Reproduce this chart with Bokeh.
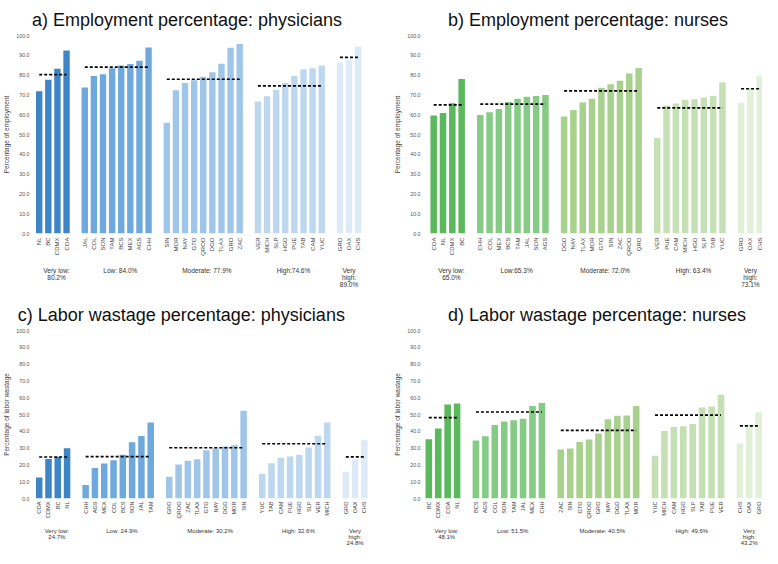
import math
from bokeh.plotting import figure
from bokeh.layouts import gridplot
from bokeh.models import Range1d, FixedTicker, LinearAxis, NumeralTickFormatter, ColumnDataSource
from bokeh.embed import file_html
from bokeh.resources import INLINE

# ---------------- data ----------------
a_states = [["NL", "BC", "CDMX", "COA"],
            ["JAL", "COL", "SON", "TAM", "BCS", "MEX", "AGS", "CHH"],
            ["SIN", "MOR", "NAY", "GTO", "QROO", "DGO", "TLAX", "GRO", "ZAC"],
            ["VER", "MICH", "SLP", "HGO", "PUE", "TAB", "CAM", "YUC"],
            ["GRO", "OAX", "CHS"]]
a_values = [[71.8, 77.7, 83.2, 92.4],
            [73.8, 79.6, 80.4, 83.4, 84.9, 85.6, 87.3, 93.9],
            [55.9, 72.4, 76.0, 77.4, 79.2, 81.5, 85.7, 93.8, 95.7],
            [66.7, 69.3, 72.6, 76.0, 79.6, 83.0, 83.4, 84.9],
            [86.5, 87.5, 94.4]]
a_means = [80.2, 84.0, 77.9, 74.6, 89.0]
a_labels = ["Very low:\n80.2%", "Low: 84.0%", "Moderate: 77.9%", "High:74.6%", "Very\nhigh:\n89.0%"]

b_states = [["COA", "NL", "CDMX", "BC"],
            ["CHH", "COL", "MEX", "BCS", "TAM", "JAL", "SON", "AGS"],
            ["DGO", "NAY", "TLAX", "MOR", "GTO", "SIN", "ZAC", "QROO", "QRO"],
            ["VER", "PUE", "CAM", "MICH", "HGO", "SLP", "TAB", "YUC"],
            ["GRO", "OAX", "CHS"]]
b_values = [[59.6, 60.9, 65.8, 78.0],
            [59.8, 61.2, 62.9, 66.4, 68.1, 69.1, 69.4, 70.0],
            [59.1, 62.4, 66.1, 68.1, 73.6, 75.4, 77.2, 80.8, 83.6],
            [48.2, 64.6, 65.6, 67.6, 67.8, 68.7, 69.6, 76.4],
            [66.0, 73.4, 79.8]]
b_means = [65.0, 65.3, 72.0, 63.4, 73.1]
b_labels = ["Very low:\n65.0%", "Low:65.3%", "Moderate: 72.0%", "High: 63.4%", "Very\nhigh:\n73.1%"]

c_states = [["COA", "CDMX", "BC", "NL"],
            ["CHH", "AGS", "MEX", "COL", "BCS", "SON", "JAL", "TAM"],
            ["GRO", "QROO", "ZAC", "TLAX", "GTO", "NAY", "DGO", "MOR", "SIN"],
            ["YUC", "TAB", "CAM", "PUE", "HGO", "SLP", "VER", "MICH"],
            ["GRO", "OAX", "CHS"]]
c_values = [[12.5, 23.5, 24.8, 29.9],
            [8.0, 18.2, 20.8, 22.8, 26.0, 33.5, 37.2, 45.2],
            [13.0, 20.3, 22.5, 23.3, 28.7, 29.8, 31.0, 31.7, 52.3],
            [14.7, 21.0, 24.2, 25.0, 26.1, 30.4, 37.3, 45.2],
            [15.8, 23.3, 34.7]]
c_means = [24.7, 24.9, 30.2, 32.6, 24.8]
c_labels = ["Very low:\n24.7%", "Low: 24.9%", "Moderate: 30.2%", "High: 32.6%", "Very\nhigh:\n24.8%"]

d_states = [["BC", "CDMX", "COA", "NL"],
            ["BCS", "AGS", "COL", "SON", "TAM", "JAL", "MEX", "CHH"],
            ["ZAC", "SIN", "GTO", "QROO", "GRO", "NAY", "DGO", "TLAX", "MOR"],
            ["YUC", "MICH", "CAM", "HGO", "SLP", "TAB", "PUE", "VER"],
            ["CHS", "OAX", "GRO"]]
d_values = [[35.2, 41.6, 55.9, 56.5],
            [34.5, 37.0, 43.8, 45.8, 46.6, 47.4, 55.1, 56.8],
            [29.2, 29.8, 33.6, 35.1, 38.7, 47.2, 49.2, 49.4, 55.1],
            [25.5, 40.2, 42.6, 43.0, 44.3, 54.2, 54.7, 61.7],
            [32.8, 43.4, 51.3]]
d_means = [48.1, 51.5, 40.5, 49.6, 43.2]
d_labels = ["Very low:\n48.1%", "Low: 51.5%", "Moderate: 40.5%", "High: 49.6%", "Very\nhigh:\n43.2%"]

blues = ["#3D85C6", "#6FA8DC", "#9FC5E8", "#BDD7EE", "#DDEBF7"]
greens = ["#5CB85C", "#85CB85", "#A9D18E", "#C5E0B4", "#E2F0D9"]

y_ticks = list(range(0, 101, 10))
FONT = "Liberation Sans"


def key(v):
    return int(v) if float(v).is_integer() else v


def no_ticks(ax):
    ax.axis_line_color = None
    ax.major_tick_line_color = None
    ax.minor_tick_line_color = None
    ax.major_tick_out = 0
    ax.major_tick_in = 0
    ax.minor_tick_out = 0
    ax.minor_tick_in = 0


def make_panel(title, ylabel, states, values, means, glabels, palette,
               width, height, bl, bt, bb, xr, title_offset, state_fs, group_fs,
               state_sd, group_sd):
    xs, tops, cols, names = [], [], [], []
    seg_x0, seg_x1, centers = [], [], []
    s = 0
    for gi, (st, vals) in enumerate(zip(states, values)):
        pos = list(range(s, s + len(st)))
        xs += pos
        tops += vals
        names += st
        cols += [palette[gi]] * len(st)
        seg_x0.append(pos[0])
        seg_x1.append(pos[-1])
        shift = 0.4 if gi < len(states) - 1 else 0.0
        centers.append((pos[0] + pos[-1]) / 2 + shift)
        s += len(st) + 1

    p = figure(width=width, height=height, title=title,
               x_range=Range1d(*xr), y_range=Range1d(0, 100),
               output_backend="svg", toolbar_location=None,
               min_border_left=bl, min_border_right=0, min_border_top=bt,
               min_border_bottom=bb)
    p.outline_line_color = None
    p.grid.visible = False
    p.background_fill_color = "white"
    p.border_fill_color = "white"

    src = ColumnDataSource(dict(x=xs, top=tops, color=cols))
    p.vbar(x="x", top="top", bottom=0, width=0.7, color="color", source=src, line_color=None)
    p.segment(x0=seg_x0, x1=seg_x1, y0=means, y1=means, line_color="black",
              line_width=1.7, line_dash="3 2")

    p.title.text_font = FONT
    p.title.text_font_size = "18px"
    p.title.text_font_style = "normal"
    p.title.text_color = "#111111"
    p.title.align = "left"
    p.title.offset = title_offset
    p.title.standoff = 12

    ya = p.yaxis[0]
    ya.ticker = FixedTicker(ticks=y_ticks)
    ya.formatter = NumeralTickFormatter(format="0.0")
    ya.axis_label = ylabel
    ya.axis_label_text_font = FONT
    ya.axis_label_text_font_size = "6.5px"
    ya.axis_label_text_font_style = "normal"
    ya.axis_label_text_color = "#444444"
    ya.axis_label_standoff = 3
    ya.major_label_text_font = FONT
    ya.major_label_text_font_size = "5.3px"
    ya.major_label_text_color = "#555555"
    ya.major_label_standoff = 3
    no_ticks(ya)

    xa = p.xaxis[0]
    xa.ticker = FixedTicker(ticks=xs)
    xa.major_label_overrides = {key(x): n for x, n in zip(xs, names)}
    xa.major_label_orientation = math.pi / 2
    xa.major_label_text_font = FONT
    xa.major_label_text_font_size = state_fs
    xa.major_label_text_color = "#444444"
    xa.major_label_standoff = state_sd
    no_ticks(xa)

    ga = LinearAxis(ticker=FixedTicker(ticks=centers),
                    major_label_overrides={key(c): l for c, l in zip(centers, glabels)})
    ga.major_label_text_font = FONT
    ga.major_label_text_font_size = group_fs
    ga.major_label_text_color = "#333333"
    ga.major_label_text_line_height = 1.0
    ga.major_label_standoff = group_sd
    no_ticks(ga)
    p.add_layout(ga, "below")
    return p


pa = make_panel("a) Employment percentage: physicians", "Percentage of employment",
                a_states, a_values, a_means, a_labels, blues,
                381, 290, 27, 35, 56, (-0.736, 37.56), -0.6, "6px", "6.5px", 4, 8)
pb = make_panel("b) Employment percentage: nurses", "Percentage of employment",
                b_states, b_values, b_means, b_labels, greens,
                381, 290, 42, 35, 56, (-1.095, 35.3), 24.4, "6px", "6.5px", 4, 8)
pc = make_panel("c) Labor wastage percentage: physicians", "Percentage of labor wastage",
                c_states, c_values, c_means, c_labels, blues,
                381, 258, 27, 40, 45, (-0.721, 36.84), -14.8, "5.6px", "6px", 3, 6)
pd_ = make_panel("d) Labor wastage percentage: nurses", "Percentage of labor wastage",
                 d_states, d_values, d_means, d_labels, greens,
                 381, 258, 42, 40, 45, (-0.562, 35.40), 24.4, "5.6px", "6px", 3, 6)

grid = gridplot([[pa, pb], [pc, pd_]], toolbar_location=None)

open("out.html", "w").write(file_html(grid, INLINE))
